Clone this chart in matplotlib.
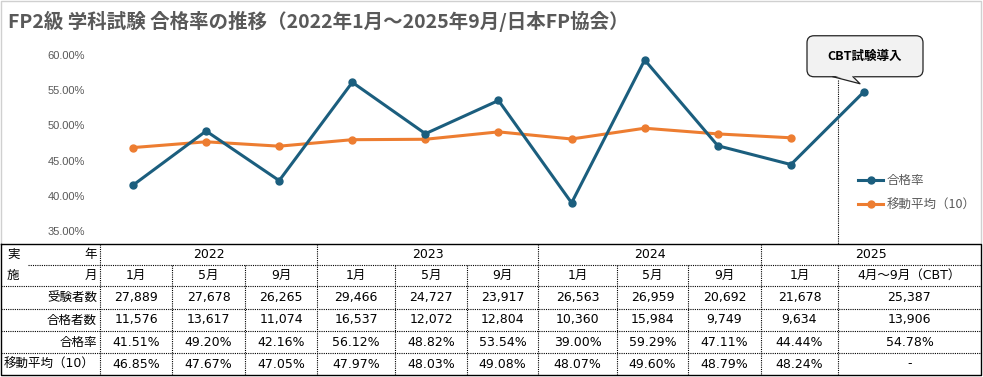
import matplotlib.pyplot as plt
from matplotlib.patches import FancyBboxPatch, Polygon
from matplotlib.ticker import FuncFormatter

plt.rcParams['font.family'] = ['Noto Sans CJK JP', 'DejaVu Sans']

# データ
years = ['2022', '2023', '2024', '2025']
year_span = [3, 3, 3, 2]  # 年ごとの列数
months = ['1月', '5月', '9月', '1月', '5月', '9月', '1月', '5月', '9月', '1月', '4月～9月（CBT）']
examinees = [27889, 27678, 26265, 29466, 24727, 23917, 26563, 26959, 20692, 21678, 25387]
passers = [11576, 13617, 11074, 16537, 12072, 12804, 10360, 15984, 9749, 9634, 13906]
rate = [41.51, 49.20, 42.16, 56.12, 48.82, 53.54, 39.00, 59.29, 47.11, 44.44, 54.78]
moving_avg = [46.85, 47.67, 47.05, 47.97, 48.03, 49.08, 48.07, 49.60, 48.79, 48.24]

title = 'FP2級 学科試験 合格率の推移（2022年1月～2025年9月/日本FP協会）'
BLUE = '#1b5e7e'
ORANGE = '#ed7d31'
GRAY = '#595959'
TFONT = ['DejaVu Sans', 'Noto Sans CJK JP']

W, H = 983, 377
fig = plt.figure(figsize=(W / 100, H / 100), dpi=100)

# 背景（ピクセル座標）: 枠線・タイトル・表
bg = fig.add_axes([0, 0, 1, 1])
bg.set_xlim(0, W)
bg.set_ylim(H, 0)
bg.axis('off')

# グラフ枠
bg.plot([1, 1, 981, 981], [243, 1, 1, 243], color='#d0d0d0', lw=1)
bg.text(8, 21, title, ha='left', va='center', fontsize=14, weight='bold', color=GRAY)

# 表のレイアウト
col_edges = [100, 172, 245, 317, 395, 467, 538, 617, 688, 761, 838, 981]
row_edges = [244, 265, 286, 309, 331, 353, 375]
dot = dict(color='black', lw=0.8, linestyle=(0, (1, 1)))

# 外枠
bg.plot([1, 981, 981, 1, 1], [244, 244, 375, 375, 244], color='black', lw=1)
# 横線
bg.plot([28, 981], [265, 265], **dot)
for y in row_edges[2:-1]:
    bg.plot([1, 981], [y, y], **dot)
# 縦線
group_idx = [0]
for s in year_span:
    group_idx.append(group_idx[-1] + s)
for i, x in enumerate(col_edges[:-1]):
    top = 244 if i in group_idx else 265
    bg.plot([x, x], [top, 375], **dot)
# CBT導入の区切り（グラフ部分）
bg.plot([838, 838], [80, 244], **dot)

fs = 9
# 見出し列
bg.text(7, 254.5, '実', ha='left', va='center', fontsize=fs, family=TFONT)
bg.text(97, 254.5, '年', ha='right', va='center', fontsize=fs, family=TFONT)
bg.text(7, 275.5, '施', ha='left', va='center', fontsize=fs, family=TFONT)
bg.text(97, 275.5, '月', ha='right', va='center', fontsize=fs, family=TFONT)
row_labels = ['受験者数', '合格者数', '合格率']
for k, lab in enumerate(row_labels):
    yc = (row_edges[k + 2] + row_edges[k + 3]) / 2
    bg.text(97, yc, lab, ha='right', va='center', fontsize=fs, family=TFONT)
bg.text(4, (row_edges[5] + row_edges[6]) / 2, '移動平均（10）', ha='left', va='center',
        fontsize=fs, family=TFONT)

# 年
for g, yr in enumerate(years):
    xc = (col_edges[group_idx[g]] + col_edges[group_idx[g + 1]]) / 2
    bg.text(xc, 254.5, yr, ha='center', va='center', fontsize=fs, family=TFONT)

# 各列の値
for i in range(len(months)):
    xc = (col_edges[i] + col_edges[i + 1]) / 2
    cells = [months[i], f'{examinees[i]:,}', f'{passers[i]:,}', f'{rate[i]:.2f}%',
             f'{moving_avg[i]:.2f}%' if i < len(moving_avg) else '-']
    for k, txt in enumerate(cells):
        yc = (row_edges[k + 1] + row_edges[k + 2]) / 2
        bg.text(xc, yc, txt, ha='center', va='center', fontsize=fs, family=TFONT)

# 折れ線グラフ
x0, dx = 133, 73.1  # 1点目の位置と間隔（ピクセル）
L, R, T, B = 100, 940, 55, 231
ax = fig.add_axes([L / W, 1 - B / H, (R - L) / W, (B - T) / H])
ax.patch.set_alpha(0)
ax.set_xlim((L - x0) / dx, (R - x0) / dx)
ax.set_ylim(35, 60)
ax.set_yticks([35, 40, 45, 50, 55, 60])
ax.yaxis.set_major_formatter(FuncFormatter(lambda v, p: f'{v:.2f}%'))
ax.tick_params(axis='y', length=0, pad=11, labelsize=8, labelcolor=GRAY)
for lab in ax.get_yticklabels():
    lab.set_family('Liberation Sans')
ax.set_xticks([])
for s in ax.spines.values():
    s.set_visible(False)

ax.plot(range(len(rate)), rate, color=BLUE, lw=2.2, marker='o', ms=5, clip_on=False,
        label='合格率', zorder=3)
ax.plot(range(len(moving_avg)), moving_avg, color=ORANGE, lw=2.2, marker='o', ms=5,
        clip_on=False, label='移動平均（10）', zorder=2)

ax.legend(loc='center left', bbox_to_anchor=(847 / W, 1 - 193 / H),
          bbox_transform=fig.transFigure, frameon=False, fontsize=9, labelcolor=GRAY,
          handlelength=2.0, handletextpad=0.3, labelspacing=0.9)

# 吹き出し（最後の点の位置から配置）
disp = ax.transData.transform((len(rate) - 1, rate[-1]))
px, py = bg.transData.inverted().transform(disp)
bl, br, bt, bb = px - 57, px + 59, py - 56, py - 15
box = FancyBboxPatch((bl, bt), br - bl, bb - bt, boxstyle='round,pad=0,rounding_size=7',
                     fc='#f2f2f2', ec='#222222', lw=0.9, zorder=5)
bg.add_patch(box)
tail = [(px - 31, bb), (px - 4, py - 8), (px - 11, bb)]
bg.add_patch(Polygon([(tail[0][0], bb - 1.5), tail[1], (tail[2][0], bb - 1.5)],
                     closed=True, fc='#f2f2f2', ec='none', zorder=6))
bg.plot([tail[0][0], tail[1][0], tail[2][0]], [tail[0][1], tail[1][1], tail[2][1]],
        color='#222222', lw=0.9, zorder=7)
bg.text((bl + br) / 2, (bt + bb) / 2, 'CBT試験導入', ha='center', va='center',
        fontsize=9, weight='bold', zorder=8)

fig.savefig('out.png', dpi=100)
